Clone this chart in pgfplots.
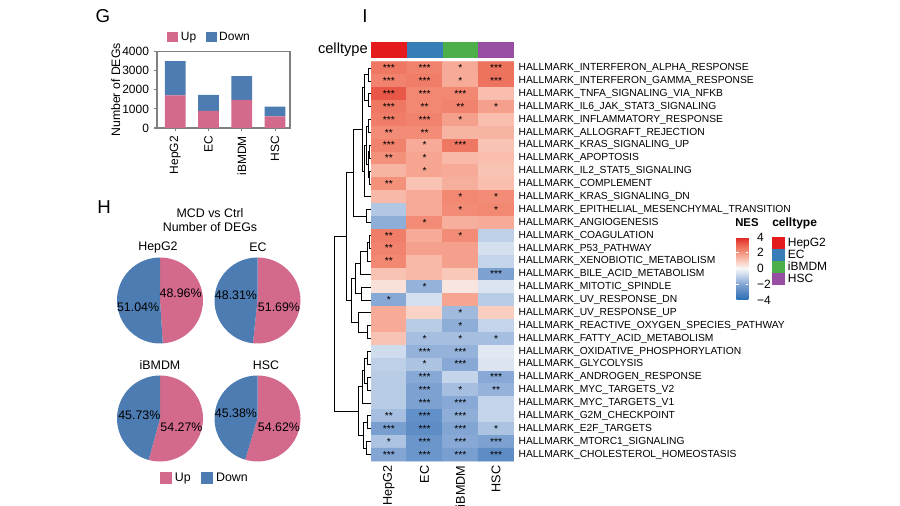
\documentclass[border=0pt]{standalone}
\usepackage{fontspec}
\setmainfont{Liberation Sans}
\usepackage{pgfplots}
\usepackage{pgfplotstable}
\pgfplotsset{compat=1.18}

\definecolor{upc}{RGB}{211,106,140}
\definecolor{downc}{RGB}{76,124,178}
\definecolor{cHepG2}{RGB}{228,26,28}
\definecolor{cEC}{RGB}{55,126,184}
\definecolor{ciBMDM}{RGB}{77,175,74}
\definecolor{cHSC}{RGB}{152,78,163}

\newcommand{\fs}[1]{\fontsize{#1}{#1}\selectfont}

\pgfplotsset{
  colormap={nes}{rgb255=(38,110,180) rgb255=(85,135,195) rgb255=(130,165,212)
    rgb255=(190,208,232) rgb255=(248,248,248) rgb255=(250,200,185)
    rgb255=(244,150,128) rgb255=(236,100,80) rgb255=(222,35,38)},
  pieax/.style={anchor=south west, scale only axis, width=64.5pt, height=64.5pt,
    xmin=-1, xmax=1, ymin=-1, ymax=1, hide axis, clip=false},
  stars/.style={only marks, mark=text, text mark={#1}, text mark as node=true,
    text mark style={font=\fs{7.7}, inner sep=0pt, anchor=center}},
}

% NES per hallmark row (y) and cell type (x: 0 HepG2, 1 EC, 2 iBMDM, 3 HSC)
\pgfplotstableread{
x y c
0 1 2.6
1 1 2.4
2 1 1.6
3 1 2.7
0 2 2.4
1 2 2.5
2 2 1.6
3 2 2.7
0 3 3.2
1 3 2.3
2 3 2.3
3 3 1.2
0 4 2.6
1 4 2.3
2 4 2.4
3 4 1.8
0 5 2.5
1 5 2.4
2 5 1.8
3 5 1.2
0 6 2.2
1 6 2.2
2 6 1.4
3 6 1.4
0 7 2.4
1 7 1.6
2 7 2.6
3 7 1.1
0 8 2.1
1 8 1.7
2 8 1.3
3 8 1.2
0 9 1.4
1 9 1.7
2 9 1.6
3 9 1.1
0 10 2.1
1 10 1.1
2 10 1.5
3 10 1.2
0 11 1.3
1 11 1.6
2 11 2.3
3 11 2.2
0 12 -1.2
1 12 1.6
2 12 2.2
3 12 2.3
0 13 -1.8
1 13 2.2
2 13 1.5
3 13 1.6
0 14 2.5
1 14 1.6
2 14 2.2
3 14 -1.0
0 15 2.4
1 15 1.8
2 15 1.8
3 15 -0.6
0 16 2.3
1 16 1.3
2 16 1.8
3 16 -0.9
0 17 1.1
1 17 1.3
2 17 1.0
3 17 -2.1
0 18 0.5
1 18 -1.7
2 18 0.4
3 18 -0.5
0 19 -1.9
1 19 -0.6
2 19 1.7
3 19 -1.1
0 20 1.6
1 20 0.8
2 20 -1.5
3 20 0.9
0 21 1.6
1 21 -1.1
2 21 -1.8
3 21 -0.9
0 22 1.1
1 22 -1.4
2 22 -1.4
3 22 -1.4
0 23 -0.7
1 23 -1.7
2 23 -1.7
3 23 -0.4
0 24 -1.0
1 24 -1.3
2 24 -1.9
3 24 -0.5
0 25 -1.1
1 25 -1.9
2 25 -0.9
3 25 -1.9
0 26 -1.1
1 26 -2.1
2 26 -1.4
3 26 -1.7
0 27 -1.1
1 27 -2.1
2 27 -1.9
3 27 -0.9
0 28 -1.4
1 28 -2.7
2 28 -1.8
3 28 -0.9
0 29 -2.2
1 29 -2.8
2 29 -2.0
3 29 -1.3
0 30 -1.3
1 30 -2.5
2 30 -1.9
3 30 -2.1
0 31 -2.0
1 31 -2.5
2 31 -2.2
3 31 -2.8
}\nes

\pgfplotstableread{
x y
2 1
2 2
3 4
2 5
1 7
1 8
1 9
2 11
3 11
2 12
3 12
1 13
2 14
1 18
0 19
2 20
2 21
1 22
2 22
3 22
1 24
2 26
3 29
0 30
}\sone

\pgfplotstableread{
x y
1 4
2 4
0 6
1 6
0 8
0 10
0 14
0 15
0 16
3 26
0 28
}\stwo

\pgfplotstableread{
x y
0 1
1 1
3 1
0 2
1 2
3 2
0 3
1 3
2 3
0 4
0 5
1 5
0 7
2 7
3 17
1 23
2 23
2 24
1 25
3 25
1 26
1 27
2 27
1 28
2 28
0 29
1 29
2 29
1 30
2 30
3 30
0 31
1 31
2 31
3 31
}\sthree

\begin{document}
\begin{tikzpicture}

% ---------------- G: stacked bars
\begin{axis}[
  at={(117.75pt,283.5pt)}, anchor=south west, scale only axis,
  width=99.75pt, height=57.2pt,
  ybar stacked, bar width=0.62,
  xmin=-0.55, xmax=3.45, ymin=0, ymax=4000,
  xtick={0,1,2,3}, xticklabels={HepG2,EC,iBMDM,HSC},
  ytick={0,1000,2000,3000,4000}, yticklabels={0,1000,2000,3000,4000},
  x tick label style={rotate=90, anchor=east, font=\fs{9}},
  y tick label style={font=\fs{9}},
  axis line style={draw=gray, line width=1pt},
  tick style={draw=gray, line width=0.8pt},
  tick align=outside, major tick length=2.5pt, tick pos=left,
  ylabel={Number of DEGs},
  ylabel style={at={(axis description cs:-0.274,0.5)}, anchor=south, inner sep=0pt, font=\fs{9.2}},
  legend style={at={(axis description cs:0.075,1.193)}, anchor=west, draw=none, fill=none,
    legend columns=2, font=\fs{9}, inner sep=0pt,
    /tikz/every even column/.append style={column sep=5pt}},
  legend image code/.code={\fill[#1] (0pt,-4.1pt) rectangle (8.25pt,4.1pt);},
]
\addplot[fill=upc, draw=none] coordinates {(0,1714) (1,900) (2,1475) (3,612)};
\addlegendentry{Up}
\addplot[fill=downc, draw=none] coordinates {(0,1787) (1,841) (2,1243) (3,508)};
\addlegendentry{Down}
\end{axis}

% ---------------- H: pies
\begin{axis}[pieax, at={(87.75pt,121.875pt)}]
\fill[upc] (axis cs:0,0) -- (axis cs:0,1) arc[start angle=90, end angle={90-3.6*48.96}, radius=32.25pt] -- cycle;
\fill[downc] (axis cs:0,0) -- (axis cs:0,1) arc[start angle=90, end angle={90+3.6*51.04}, radius=32.25pt] -- cycle;
\node[font=\fs{9.3}] at (axis cs:0.48,0.17) {48.96\%};
\node[font=\fs{9.3}] at (axis cs:-0.51,-0.15) {51.04\%};
\end{axis}
\begin{axis}[pieax, at={(160.875pt,121.875pt)}]
\fill[upc] (axis cs:0,0) -- (axis cs:0,1) arc[start angle=90, end angle={90-3.6*51.69}, radius=32.25pt] -- cycle;
\fill[downc] (axis cs:0,0) -- (axis cs:0,1) arc[start angle=90, end angle={90+3.6*48.31}, radius=32.25pt] -- cycle;
\node[font=\fs{9.3}] at (axis cs:-0.5,0.13) {48.31\%};
\node[font=\fs{9.3}] at (axis cs:0.5,-0.15) {51.69\%};
\end{axis}
\begin{axis}[pieax, at={(87.75pt,33.375pt)},
  legend style={at={(axis description cs:0.5,-0.192)}, anchor=west, draw=none, fill=none,
    legend columns=2, font=\fs{9.3}, inner sep=0pt,
    /tikz/every even column/.append style={column sep=6pt}},
  legend image code/.code={\fill[#1] (0pt,-4.2pt) rectangle (9pt,4.2pt);}]
\addlegendimage{fill=upc, draw=none}
\addlegendentry{Up}
\addlegendimage{fill=downc, draw=none}
\addlegendentry{Down}
\fill[upc] (axis cs:0,0) -- (axis cs:0,1) arc[start angle=90, end angle={90-3.6*54.27}, radius=32.25pt] -- cycle;
\fill[downc] (axis cs:0,0) -- (axis cs:0,1) arc[start angle=90, end angle={90+3.6*45.73}, radius=32.25pt] -- cycle;
\node[font=\fs{9.3}] at (axis cs:-0.48,0.08) {45.73\%};
\node[font=\fs{9.3}] at (axis cs:0.5,-0.2) {54.27\%};
\end{axis}
\begin{axis}[pieax, at={(160.875pt,33.375pt)}]
\fill[upc] (axis cs:0,0) -- (axis cs:0,1) arc[start angle=90, end angle={90-3.6*54.62}, radius=32.25pt] -- cycle;
\fill[downc] (axis cs:0,0) -- (axis cs:0,1) arc[start angle=90, end angle={90+3.6*45.38}, radius=32.25pt] -- cycle;
\node[font=\fs{9.3}] at (axis cs:-0.5,0.13) {45.38\%};
\node[font=\fs{9.3}] at (axis cs:0.5,-0.2) {54.62\%};
\end{axis}

% ---------------- I: dendrogram
\begin{axis}[
  at={(247.5pt,33.75pt)}, anchor=south west, scale only axis,
  width=30.75pt, height=299.5pt,
  xmin=330, xmax=371, ymin=0.5, ymax=31.5, y dir=reverse,
  hide axis, clip=false, unbounded coords=jump]
\addplot[black, line width=0.65pt, mark=none] table {
x y
371 1
368 1
368 2
371 2
nan nan
371 3
368 3
368 4
371 4
nan nan
368 1.5
364 1.5
364 3.5
368 3.5
nan nan
371 5
368 5
368 6
371 6
nan nan
371 7
369.5 7
369.5 8
371 8
nan nan
371 9
369.5 9
369.5 10
371 10
nan nan
369.5 7.5
368 7.5
368 9.5
369.5 9.5
nan nan
368 5.5
366 5.5
366 8.5
368 8.5
nan nan
366 7
364 7
364 11
371 11
nan nan
364 2.5
362 2.5
362 9
364 9
nan nan
371 12
366 12
366 13
371 13
nan nan
362 5.75
353 5.75
353 12.5
366 12.5
nan nan
371 14
369 14
369 15
371 15
nan nan
369 14.5
367 14.5
367 16
371 16
nan nan
367 15.25
360 15.25
360 17
371 17
nan nan
371 18
361 18
361 19
371 19
nan nan
360 16.125
355 16.125
355 18.5
361 18.5
nan nan
371 21
367 21
367 22
371 22
nan nan
371 20
358 20
358 21.5
367 21.5
nan nan
355 17.3125
351 17.3125
351 20.75
358 20.75
nan nan
353 9.125
346 9.125
346 19.03
351 19.03
nan nan
371 23
367 23
367 24
371 24
nan nan
371 25
367 25
367 26
371 26
nan nan
367 23.5
364 23.5
364 25.5
367 25.5
nan nan
364 24.5
362 24.5
362 27
371 27
nan nan
371 28
367 28
367 29
371 29
nan nan
371 30
366 30
366 31
371 31
nan nan
367 28.5
363 28.5
363 30.5
366 30.5
nan nan
362 25.75
358 25.75
358 29.5
363 29.5
nan nan
346 14.08
334 14.08
334 27.625
358 27.625
};
\end{axis}

% ---------------- I: heatmap
\begin{axis}[
  at={(278.25pt,33.75pt)}, anchor=south west, scale only axis,
  width=107.25pt, height=299.5pt,
  xmin=-0.5, xmax=3.5, ymin=0.5, ymax=31.5, y dir=reverse, enlargelimits=false,
  axis line style={draw=none}, major tick length=0pt,
  xtick={0,1,2,3}, xticklabels={HepG2,EC,iBMDM,HSC},
  x tick label style={rotate=90, anchor=east, font=\fs{9.5}},
  ytick={1,...,31}, yticklabel pos=right,
  y tick label style={anchor=west, font=\fs{7.7}},
  yticklabels={HALLMARK\_INTERFERON\_ALPHA\_RESPONSE,HALLMARK\_INTERFERON\_GAMMA\_RESPONSE,
    HALLMARK\_TNFA\_SIGNALING\_VIA\_NFKB,HALLMARK\_IL6\_JAK\_STAT3\_SIGNALING,
    HALLMARK\_INFLAMMATORY\_RESPONSE,HALLMARK\_ALLOGRAFT\_REJECTION,
    HALLMARK\_KRAS\_SIGNALING\_UP,HALLMARK\_APOPTOSIS,HALLMARK\_IL2\_STAT5\_SIGNALING,
    HALLMARK\_COMPLEMENT,HALLMARK\_KRAS\_SIGNALING\_DN,
    HALLMARK\_EPITHELIAL\_MESENCHYMAL\_TRANSITION,HALLMARK\_ANGIOGENESIS,
    HALLMARK\_COAGULATION,HALLMARK\_P53\_PATHWAY,HALLMARK\_XENOBIOTIC\_METABOLISM,
    HALLMARK\_BILE\_ACID\_METABOLISM,HALLMARK\_MITOTIC\_SPINDLE,HALLMARK\_UV\_RESPONSE\_DN,
    HALLMARK\_UV\_RESPONSE\_UP,HALLMARK\_REACTIVE\_OXYGEN\_SPECIES\_PATHWAY,
    HALLMARK\_FATTY\_ACID\_METABOLISM,HALLMARK\_OXIDATIVE\_PHOSPHORYLATION,
    HALLMARK\_GLYCOLYSIS,HALLMARK\_ANDROGEN\_RESPONSE,HALLMARK\_MYC\_TARGETS\_V2,
    HALLMARK\_MYC\_TARGETS\_V1,HALLMARK\_G2M\_CHECKPOINT,HALLMARK\_E2F\_TARGETS,
    HALLMARK\_MTORC1\_SIGNALING,HALLMARK\_CHOLESTEROL\_HOMEOSTASIS},
  colormap name=nes, point meta min=-4, point meta max=4,
  colorbar,
  colorbar style={at={(parent axis.north east)}, anchor=north west,
    xshift=158.25pt, yshift=-131.5pt, scale only axis, width=9pt, height=47.25pt,
    ytick={-4,-2,0,2,4}, yticklabels={−4,−2,0,2,4},
    axis line style={draw=none}, tick align=inside, ytick pos=both, yticklabel pos=right,
    major tick length=2pt, major tick style={draw=white, line width=0.6pt},
    yticklabel style={font=\fs{9}, xshift=3pt}},
]
\addplot[matrix plot*, mesh/cols=4, point meta=explicit] table[x=x, y=y, meta=c] {\nes};
\addplot[stars={*}] table[x=x, y=y] {\sone};
\addplot[stars={**}] table[x=x, y=y] {\stwo};
\addplot[stars={***}] table[x=x, y=y] {\sthree};
\end{axis}

% ---------------- celltype annotation
\begin{axis}[
  at={(278.25pt,335.78pt)}, anchor=south west, scale only axis,
  width=107.25pt, height=12.45pt,
  xmin=-0.5, xmax=3.5, ymin=0, ymax=1, hide axis,
  ybar, bar width=1, bar shift=0pt,
  legend style={at={(axis description cs:2.804,-10.645)}, anchor=north west, draw=none, fill=none,
    font=\fs{9}, inner sep=0pt, row sep=-2.8pt, legend cell align=left},
  legend image code/.code={\fill[#1] (0pt,-4.55pt) rectangle (9.75pt,4.55pt);},
]
\addplot[fill=cHepG2, draw=none] coordinates {(0,1)};
\addlegendentry{HepG2}
\addplot[fill=cEC, draw=none] coordinates {(1,1)};
\addlegendentry{EC}
\addplot[fill=ciBMDM, draw=none] coordinates {(2,1)};
\addlegendentry{iBMDM}
\addplot[fill=cHSC, draw=none] coordinates {(3,1)};
\addlegendentry{HSC}
\end{axis}

% ---------------- texts
\node[font=\fs{14}] at (77.25pt,367.5pt) {G};
\node[font=\fs{14}] at (78pt,223.875pt) {H};
\node[font=\fs{14}] at (273.75pt,367.5pt) {I};
\node[font=\fs{9.3}] at (157.5pt,219.75pt) {MCD vs Ctrl};
\node[font=\fs{9.3}] at (157.5pt,209.25pt) {Number of DEGs};
\node[font=\fs{9.3}] at (118.5pt,194.25pt) {HepG2};
\node[font=\fs{9.3}] at (193.5pt,194.25pt) {EC};
\node[font=\fs{9.3}] at (120pt,105.75pt) {iBMDM};
\node[font=\fs{9.3}] at (199.5pt,105.75pt) {HSC};
\node[font=\fs{11}, anchor=east, inner sep=0pt] at (276pt,342pt) {celltype};
\node[font=\bfseries\fs{8.5}, anchor=west, inner sep=0pt] at (551.25pt,212.25pt) {NES};
\node[font=\bfseries\fs{9}, anchor=west, inner sep=0pt] at (579pt,212.25pt) {celltype};

\pgfresetboundingbox
\useasboundingbox (0,0) rectangle (675pt,379.5pt);
\end{tikzpicture}
\end{document}
